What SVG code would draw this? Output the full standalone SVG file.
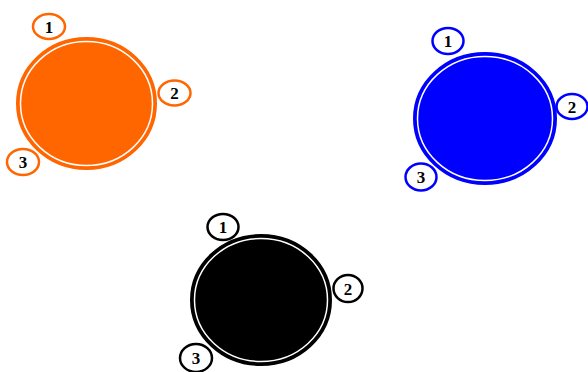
<svg xmlns="http://www.w3.org/2000/svg" width="588" height="372" viewBox="0 0 588 372">
<style>
.gap{fill:none;stroke:#fff;stroke-width:1.5}
.tag{fill:#fff;stroke-width:2.5}
.lbl{font-family:"Liberation Serif",serif;font-weight:bold;font-size:17px;text-anchor:middle;fill:#000}
.o{stroke:#FF6600;fill:#FF6600}
.b{stroke:#0000FF;fill:#0000FF}
.k{stroke:#000;fill:#000}
</style>
<rect width="588" height="372" fill="#fff"/>
<g id="orange">
<ellipse class="o" cx="86.5" cy="103.5" rx="69" ry="65" stroke-width="3"/>
<ellipse class="gap" cx="86.5" cy="103.5" rx="66" ry="62"/>
<ellipse class="tag" stroke="#FF6600" cx="49" cy="26.5" rx="16" ry="12.5"/>
<text class="lbl" x="49" y="32.5">1</text>
<ellipse class="tag" stroke="#FF6600" cx="174.5" cy="93" rx="16" ry="12.5"/>
<text class="lbl" x="174.5" y="99">2</text>
<ellipse class="tag" stroke="#FF6600" cx="23" cy="162" rx="16" ry="13"/>
<text class="lbl" x="23" y="168">3</text>
</g>
<g id="blue">
<ellipse class="b" cx="485" cy="118.5" rx="70.5" ry="65" stroke-width="3"/>
<ellipse class="gap" cx="485" cy="118.5" rx="67.5" ry="62"/>
<ellipse class="tag" stroke="#0000FF" cx="448" cy="41" rx="15.5" ry="13"/>
<text class="lbl" x="448" y="47">1</text>
<ellipse class="tag" stroke="#0000FF" cx="572" cy="106.5" rx="15.5" ry="12.5"/>
<text class="lbl" x="572" y="112.5">2</text>
<ellipse class="tag" stroke="#0000FF" cx="421" cy="177" rx="15.5" ry="13.5"/>
<text class="lbl" x="421" y="183">3</text>
</g>
<g id="black">
<ellipse class="k" cx="261" cy="300" rx="69.5" ry="64.5" stroke-width="3"/>
<ellipse class="gap" cx="261" cy="300" rx="66.5" ry="61.5"/>
<ellipse class="tag" stroke="#000" cx="223" cy="227" rx="15.5" ry="13"/>
<text class="lbl" x="223" y="233">1</text>
<ellipse class="tag" stroke="#000" cx="348" cy="288.5" rx="14.5" ry="13.5"/>
<text class="lbl" x="348" y="294.5">2</text>
<ellipse class="tag" stroke="#000" cx="196" cy="358" rx="16" ry="14"/>
<text class="lbl" x="196" y="364">3</text>
</g>
<g id="connectors"/>
</svg>
